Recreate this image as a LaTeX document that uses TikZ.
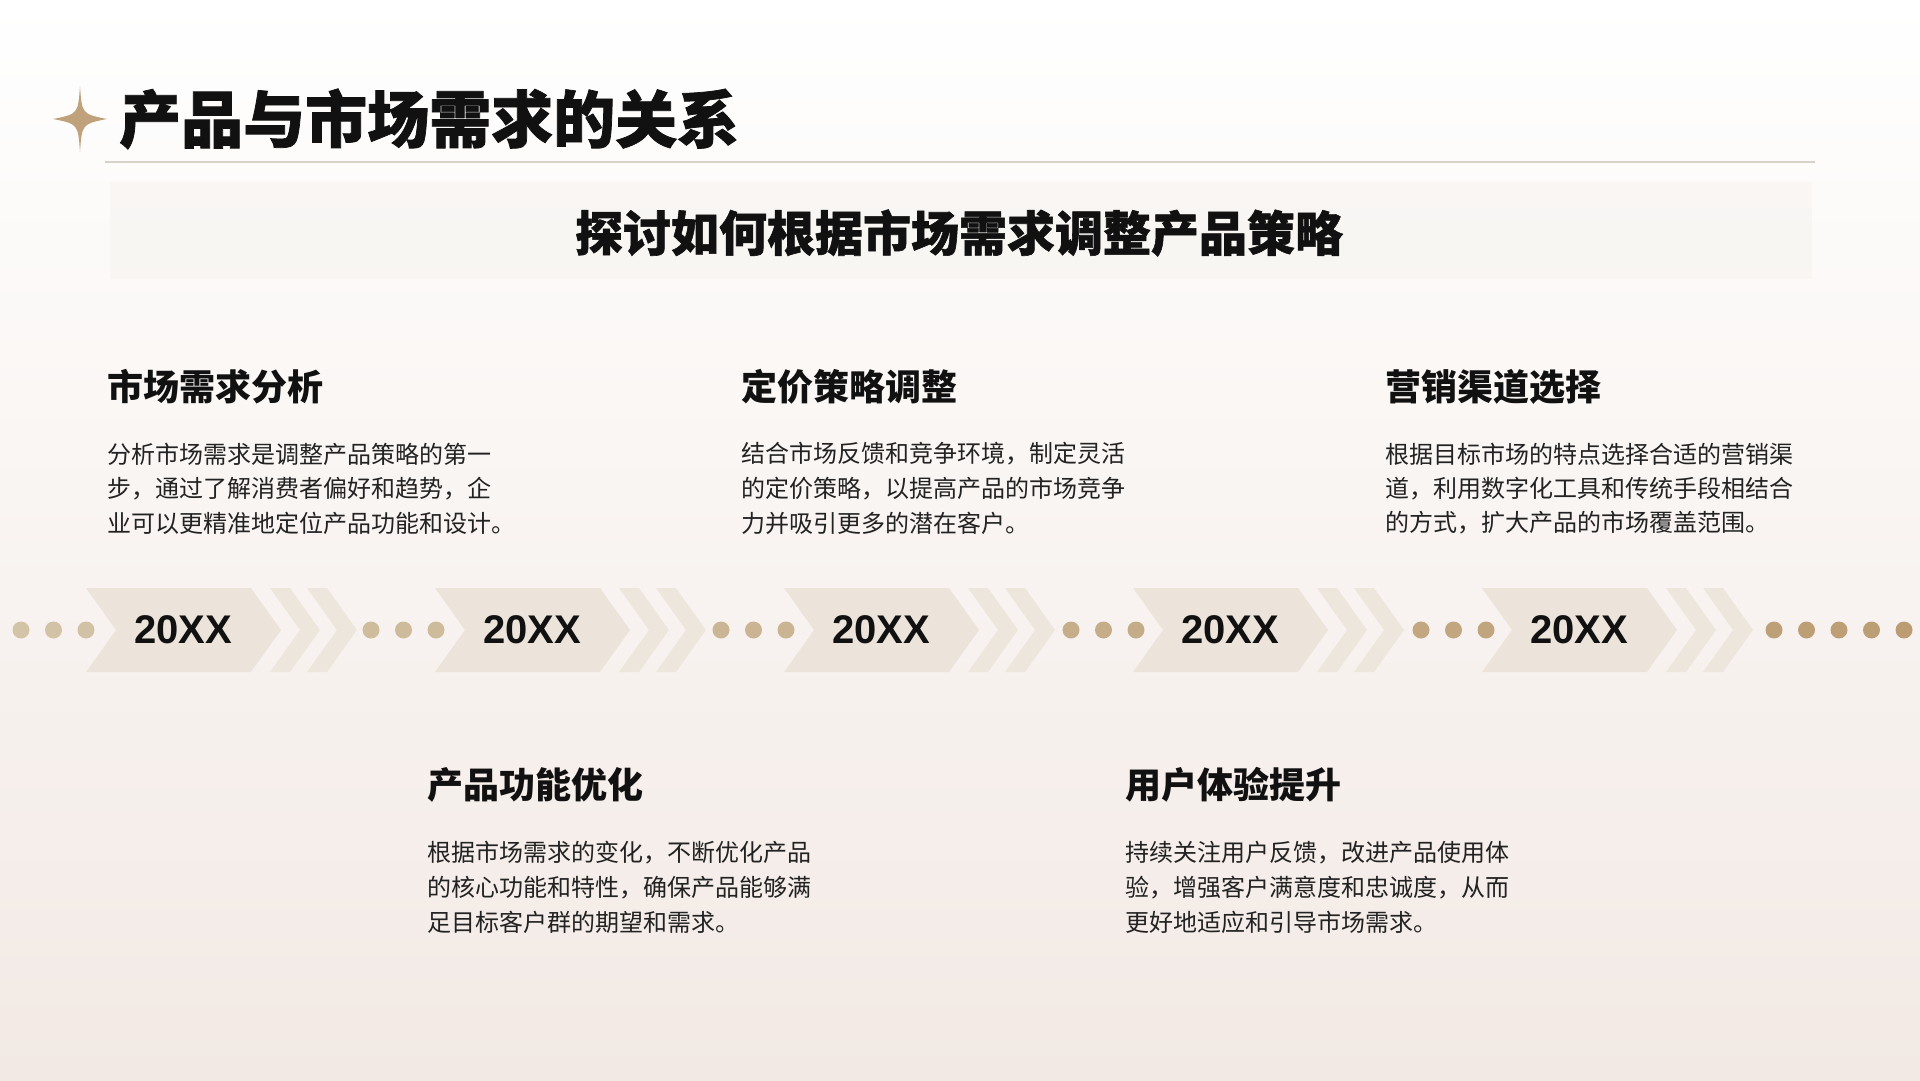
\documentclass[tikz,border=0pt]{standalone}
\usepackage{fontspec}
\newfontfamily\cjk{Noto Sans CJK SC}
\newfontfamily\cjkh[BoldFeatures={FakeBold=1.2}]{Noto Sans CJK SC}
\newfontfamily\lat{Liberation Sans}
\definecolor{bgtop}{HTML}{FFFFFF}
\definecolor{bgbot}{HTML}{F2E9E4}
\definecolor{gold}{HTML}{BFA27C}
\definecolor{rulec}{HTML}{D8D1C7}
\definecolor{bandc}{HTML}{F3EFEA}
\definecolor{chevc}{HTML}{ECE4DA}
\definecolor{chevt}{HTML}{EDE6DD}
\definecolor{dotA}{HTML}{D3C3A7}
\definecolor{dotB}{HTML}{BC9D73}
\definecolor{ink}{HTML}{111111}
\definecolor{bodyc}{HTML}{222222}
\tikzset{
  titletext/.style={inner sep=0, anchor=west, text=ink, font=\cjkh\bfseries\fontsize{62}{70}\selectfont},
  subtext/.style={inner sep=0, text=ink, font=\cjkh\bfseries\fontsize{48}{56}\selectfont},
  headtext/.style={inner sep=0, anchor=west, text=ink, font=\cjk\bfseries\fontsize{36}{42}\selectfont},
  bodytext/.style={inner sep=0, anchor=west, text=bodyc, font=\cjk\fontsize{24}{34}\selectfont},
  yeartext/.style={inner sep=0, text=ink, font=\lat\bfseries\fontsize{40}{48}\selectfont},
}
\begin{document}
\begin{tikzpicture}[x=1pt,y=-1pt]
\useasboundingbox (0,0) rectangle (1920,1080);
% background
\shade[top color=bgtop, bottom color=bgbot] (0,0) rectangle (1920,1080);
% star
\fill[gold] (80,86) .. controls (82,114) .. (107,119) .. controls (82,124) .. (80,152)
  .. controls (78,124) .. (53,119) .. controls (78,114) .. (80,86) -- cycle;
% title
\node[titletext] (title) at (119,119) {产品与市场需求的关系};
\draw[rulec, line width=1.5pt] (105,162) -- (1815,162);
% subtitle band
\fill[bandc, opacity=0.35] (110,182) rectangle (1812,279);
\node[subtext] (sub) at (959,233) {探讨如何根据市场需求调整产品策略};
% timeline
\foreach \i in {0,...,4}{
  \pgfmathsetmacro\o{349*\i}
  \pgfmathsetmacro\q{350*\i}
  \fill[chevc] (86+\o,588) -- (251+\o,588) -- (281+\o,630) -- (251+\o,672) -- (86+\o,672) -- (116+\o,630) -- cycle;
  \fill[chevt] (270+\o,588) -- (290+\o,588) -- (320+\o,630) -- (290+\o,672) -- (270+\o,672) -- (300+\o,630) -- cycle;
  \fill[chevt] (307+\o,588) -- (327+\o,588) -- (357+\o,630) -- (327+\o,672) -- (307+\o,672) -- (337+\o,630) -- cycle;
  \foreach \d in {0,32.5,65}{
    \pgfmathsetmacro\xx{21+\q+\d}
    \pgfmathsetmacro\p{(1904-\xx)/18.83}
    \fill[dotA!\p!dotB] (\xx,630) circle[radius=8.5];
  }
}
\foreach \k in {0,...,4}{
  \pgfmathsetmacro\xx{1774+32.5*\k}
  \pgfmathsetmacro\p{(1904-\xx)/18.83}
  \fill[dotA!\p!dotB] (\xx,630) circle[radius=8.5];
}
\node[yeartext] (y1) at (183,630) {20XX};
\node[yeartext] (y2) at (532,630) {20XX};
\node[yeartext] (y3) at (881,630) {20XX};
\node[yeartext] (y4) at (1230,630) {20XX};
\node[yeartext] (y5) at (1579,630) {20XX};
% block 1
\node[headtext] (h1) at (107,387) {市场需求分析};
\node[bodytext] (b1a) at (107,454) {分析市场需求是调整产品策略的第一};
\node[bodytext] (b1b) at (107,489) {步，通过了解消费者偏好和趋势，企};
\node[bodytext] (b1c) at (107,523) {业可以更精准地定位产品功能和设计。};
% block 2
\node[headtext] (h2) at (427,785) {产品功能优化};
\node[bodytext] (b2a) at (427,853) {根据市场需求的变化，不断优化产品};
\node[bodytext] (b2b) at (427,888) {的核心功能和特性，确保产品能够满};
\node[bodytext] (b2c) at (427,922) {足目标客户群的期望和需求。};
% block 3
\node[headtext] (h3) at (741,387) {定价策略调整};
\node[bodytext] (b3a) at (741,454) {结合市场反馈和竞争环境，制定灵活};
\node[bodytext] (b3b) at (741,489) {的定价策略，以提高产品的市场竞争};
\node[bodytext] (b3c) at (741,523) {力并吸引更多的潜在客户。};
% block 4
\node[headtext] (h4) at (1125,785) {用户体验提升};
\node[bodytext] (b4a) at (1125,853) {持续关注用户反馈，改进产品使用体};
\node[bodytext] (b4b) at (1125,888) {验，增强客户满意度和忠诚度，从而};
\node[bodytext] (b4c) at (1125,922) {更好地适应和引导市场需求。};
% block 5
\node[headtext] (h5) at (1385,387) {营销渠道选择};
\node[bodytext] (b5a) at (1385,454) {根据目标市场的特点选择合适的营销渠};
\node[bodytext] (b5b) at (1385,489) {道，利用数字化工具和传统手段相结合};
\node[bodytext] (b5c) at (1385,523) {的方式，扩大产品的市场覆盖范围。};
\end{tikzpicture}
\end{document}
